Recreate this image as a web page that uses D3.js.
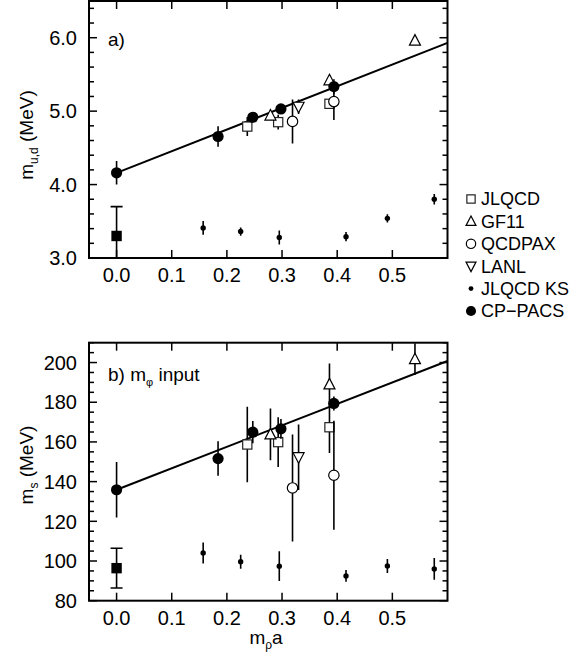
<!DOCTYPE html>
<html>
<head>
<meta charset="utf-8">
<script src="https://cdn.jsdelivr.net/npm/d3@7"></script>
<style>
  body { margin: 0; background: #fff; }
  svg { display: block; font-family: "Liberation Sans", Arial, sans-serif; }
</style>
</head>
<body>
<div id="chart"></div>
<script>
// m_rho a values and quark masses
const cpMrho = [0.0, 0.184, 0.247, 0.298, 0.394];
const cpMud = [4.16, 4.655, 4.917, 5.03, 5.334];
const cpMudErr = [0.16, 0.14, 0.07, 0.05, 0.1];
const cpMs = [135.9, 151.6, 164.9, 166.6, 179.4];
const cpMsErr = [14, 8.7, 5.6, 5, 3.5];

const jlMrho = [0.237, 0.293, 0.386];
const jlMud = [4.79, 4.85, 5.10];
const jlMudErr = [0.13, 0.1, 0.06];
const jlMs = [158.7, 159.9, 167.4];
const jlMsErr = [19, 12.5, 13];

const gfMrho = [0.279, 0.386, 0.541];
const gfMud = [4.94, 5.42, 5.96];
const gfMudErr = [0.05, 0.07, 0.06];
const gfMs = [163.8, 189, 201.7];
const gfMsErr = [13, 10.5, 8];

const qpMrho = [0.319, 0.394];
const qpMud = [4.86, 5.13];
const qpMudErr = [0.3, 0.25];
const qpMs = [136.8, 143.2];
const qpMsErr = [27, 27.5];

const laMrho = [0.33];
const laMud = [5.06];
const laMudErr = [0.1];
const laMs = [152.3];
const laMsErr = [16.5];

const ksMrho = [0.157, 0.225, 0.295, 0.416, 0.491, 0.576];
const ksMud = [3.41, 3.36, 3.28, 3.29, 3.54, 3.80];
const ksMudErr = [0.095, 0.057, 0.095, 0.063, 0.057, 0.072];
const ksMs = [104, 99.6, 97.4, 92.5, 97.5, 96];
const ksMsErr = [5.3, 3.5, 7.5, 3, 3.5, 5.5];

// continuum limit of JLQCD KS
const ksLimMrho = [0.0];
const ksLimMud = [3.30];
const ksLimMudErr = [0.4];
const ksLimMs = [96.4];
const ksLimMsErr = [10];

// linear fits of CP-PACS
const fitX = [0, 0.6];
const fitMud = [4.16, 5.93];
const fitMs = [135.9, 200.8];

const xTicks = [0.0, 0.1, 0.2, 0.3, 0.4, 0.5];
const mudTicks = [3.0, 4.0, 5.0, 6.0];
const msTicks = [80, 100, 120, 140, 160, 180, 200];

const legendNames = ["JLQCD", "GF11", "QCDPAX", "LANL", "JLQCD KS", "CP\u2212PACS"];
const legendShapes = ["square", "tri", "circle", "tridown", "dot", "fcircle"];

const W = 580, H = 662;
const svg = d3.select("#chart").append("svg").attr("width", W).attr("height", H);

const x = d3.scaleLinear().domain([-0.05, 0.6]).range([89, 447.5]);

function marker(g, shape, cx, cy, s) {
    s = s || 1;
    if (shape === "square") {
        g.append("rect").attr("x", cx - 4.6 * s).attr("y", cy - 4.6 * s)
            .attr("width", 9.2 * s).attr("height", 9.2 * s)
            .attr("fill", "#fff").attr("stroke", "#222").attr("stroke-width", 1.2);
    } else if (shape === "fsquare") {
        g.append("rect").attr("x", cx - 5.2).attr("y", cy - 5.2)
            .attr("width", 10.4).attr("height", 10.4).attr("fill", "#000");
    } else if (shape === "tri" || shape === "tridown") {
        const w = 5.5 * s, h = 6 * s, d = shape === "tri" ? 1 : -1;
        g.append("path")
            .attr("d", `M${cx},${cy - d * h}L${cx + w},${cy + d * h * 0.75}L${cx - w},${cy + d * h * 0.75}Z`)
            .attr("fill", "#fff").attr("stroke", "#000").attr("stroke-width", 1.2);
    } else if (shape === "circle") {
        g.append("circle").attr("cx", cx).attr("cy", cy).attr("r", 5.2 * s)
            .attr("fill", "#fff").attr("stroke", "#000").attr("stroke-width", 1.2);
    } else if (shape === "fcircle") {
        g.append("circle").attr("cx", cx).attr("cy", cy).attr("r", 5.6 * s).attr("fill", "#000");
    } else if (shape === "dot") {
        g.append("circle").attr("cx", cx).attr("cy", cy).attr("r", 2.7 * s).attr("fill", "#000");
    }
}

function series(g, y, xs, ys, es, shape, cap) {
    xs.forEach((xv, i) => {
        const px = x(xv);
        g.append("line").attr("x1", px).attr("x2", px)
            .attr("y1", y(ys[i] - es[i])).attr("y2", y(ys[i] + es[i]))
            .attr("stroke", "#000").attr("stroke-width", 1.6);
        if (cap) {
            [ys[i] - es[i], ys[i] + es[i]].forEach(v => {
                g.append("line").attr("x1", px - 6).attr("x2", px + 6)
                    .attr("y1", y(v)).attr("y2", y(v))
                    .attr("stroke", "#000").attr("stroke-width", 1.6);
            });
        }
    });
    xs.forEach((xv, i) => marker(g, shape, x(xv), y(ys[i])));
}

function panel(y, majors, minorStep, fmt, fitY, sets) {
    const [y0, y1] = y.range();
    const g = svg.append("g");
    const clipId = "clip" + Math.round(y0);
    svg.append("clipPath").attr("id", clipId).append("rect")
        .attr("x", 89).attr("y", y1).attr("width", 447.5 - 89).attr("height", y0 - y1);
    const plot = g.append("g").attr("clip-path", `url(#${clipId})`);

    // fit line
    plot.append("path")
        .datum(fitX.map((v, i) => [v, fitY[i]]))
        .attr("d", d3.line().x(d => x(d[0])).y(d => y(d[1])))
        .attr("fill", "none").attr("stroke", "#000").attr("stroke-width", 2);

    sets.forEach(s => series(plot, y, s[0], s[1], s[2], s[3], s[4]));

    // frame
    g.append("rect").attr("x", 89).attr("y", y1).attr("width", 447.5 - 89).attr("height", y0 - y1)
        .attr("fill", "none").attr("stroke", "#000").attr("stroke-width", 2);

    // inward ticks, x
    xTicks.forEach(t => {
        g.append("line").attr("x1", x(t)).attr("x2", x(t)).attr("y1", y0).attr("y2", y0 - 8)
            .attr("stroke", "#000").attr("stroke-width", 1.5);
        g.append("line").attr("x1", x(t)).attr("x2", x(t)).attr("y1", y1).attr("y2", y1 + 8)
            .attr("stroke", "#000").attr("stroke-width", 1.5);
        g.append("text").attr("x", x(t)).attr("y", y0 + 24).attr("text-anchor", "middle")
            .style("font-size", "20px").text(t.toFixed(1));
    });

    // inward ticks, y (major + minor on both sides)
    const dom = y.domain();
    const nMin = Math.round((dom[1] - dom[0]) / minorStep);
    for (let k = 0; k <= nMin; k++) {
        const v = dom[0] + k * minorStep;
        const major = majors.some(m => Math.abs(m - v) < 1e-6);
        const len = major ? 8 : 5;
        g.append("line").attr("x1", 89).attr("x2", 89 + len).attr("y1", y(v)).attr("y2", y(v))
            .attr("stroke", "#000").attr("stroke-width", 1.5);
        g.append("line").attr("x1", 447.5).attr("x2", 447.5 - len).attr("y1", y(v)).attr("y2", y(v))
            .attr("stroke", "#000").attr("stroke-width", 1.5);
    }
    majors.forEach(t => {
        g.append("text").attr("x", 77).attr("y", y(t)).attr("dy", "0.36em")
            .attr("text-anchor", "end").style("font-size", "20px").text(fmt(t));
    });
    return g;
}

const yTop = d3.scaleLinear().domain([3.0, 6.5]).range([258, 1]);
const yBot = d3.scaleLinear().domain([80, 210]).range([600.7, 342.7]);

panel(yTop, mudTicks, 0.2, d3.format(".1f"), fitMud, [
    [ksLimMrho, ksLimMud, ksLimMudErr, "fsquare", true],
    [ksMrho, ksMud, ksMudErr, "dot"],
    [jlMrho, jlMud, jlMudErr, "square"],
    [gfMrho, gfMud, gfMudErr, "tri"],
    [qpMrho, qpMud, qpMudErr, "circle"],
    [laMrho, laMud, laMudErr, "tridown"],
    [cpMrho, cpMud, cpMudErr, "fcircle"]
]);

panel(yBot, msTicks, 5, d3.format("d"), fitMs, [
    [ksLimMrho, ksLimMs, ksLimMsErr, "fsquare", true],
    [ksMrho, ksMs, ksMsErr, "dot"],
    [jlMrho, jlMs, jlMsErr, "square"],
    [gfMrho, gfMs, gfMsErr, "tri"],
    [qpMrho, qpMs, qpMsErr, "circle"],
    [laMrho, laMs, laMsErr, "tridown"],
    [cpMrho, cpMs, cpMsErr, "fcircle"]
]);

// panel labels
svg.append("text").attr("x", 108).attr("y", 46).style("font-size", "19px").text("a)");
const bl = svg.append("text").attr("x", 108).attr("y", 381).style("font-size", "19px");
bl.append("tspan").text("b) m");
bl.append("tspan").attr("dy", 5).style("font-size", "11px").text("\u03c6");
bl.append("tspan").attr("dy", -5).text(" input");

// axis titles
function yTitle(cx, cy, sub) {
    const t = svg.append("text").attr("transform", `translate(${cx},${cy}) rotate(-90)`)
        .attr("text-anchor", "middle").style("font-size", "19px");
    t.append("tspan").text("m");
    t.append("tspan").attr("dy", 5).style("font-size", "12px").text(sub);
    t.append("tspan").attr("dy", -5).text(" (MeV)");
}
yTitle(33, 135, "u,d");
yTitle(33, 465, "s");

const xt = svg.append("text").attr("x", 266).attr("y", 644).attr("text-anchor", "middle").style("font-size", "19px");
xt.append("tspan").text("m");
xt.append("tspan").attr("dy", 5).style("font-size", "12px").text("\u03c1");
xt.append("tspan").attr("dy", -5).text("a");

// legend
const leg = svg.append("g");
legendNames.forEach((name, i) => {
    const ly = 199 + i * 22.4;
    marker(leg, legendShapes[i], 471, ly, 0.9);
    leg.append("text").attr("x", 481).attr("y", ly).attr("dy", "0.36em")
        .style("font-size", "18px").text(name);
});
</script>
</body>
</html>
